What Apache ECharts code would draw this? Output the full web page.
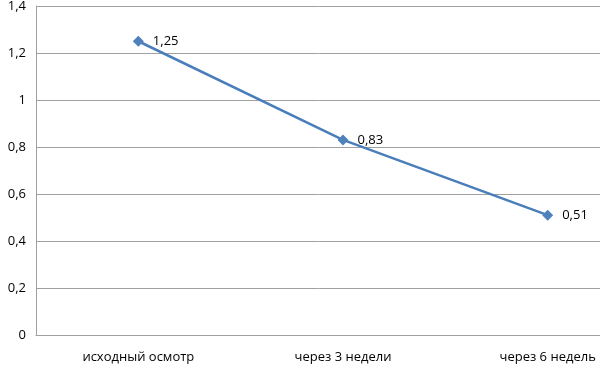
<!DOCTYPE html>
<html><head><meta charset="utf-8">
<script src="https://cdn.jsdelivr.net/npm/echarts@6/dist/echarts.min.js"></script>
<style>html,body{margin:0;padding:0;background:#fff}#c{width:600px;height:368px}</style>
</head><body><div id="c"></div>
<script>
var categories = ['исходный осмотр', 'через 3 недели', 'через 6 недель'];
var values = [1.25, 0.83, 0.51];
var yMin = 0, yMax = 1.4, yStep = 0.2;
var chart = echarts.init(document.getElementById('c'), null, {renderer: 'canvas'});
function fmt(v){ return String(Math.round(v*100)/100).replace('.', ','); }
chart.setOption({
  animation: false,
  textStyle: {fontFamily: 'Open Sans', color: '#000'},
  grid: {left: 36, top: 6, width: 614, height: 329, containLabel: false, outerBoundsMode: 'none'},
  xAxis: {
    type: 'category', data: categories, boundaryGap: true,
    axisLine: {lineStyle: {color: '#A0A0A0'}},
    axisTick: {show: false},
    axisLabel: {color: '#000', fontSize: 13, margin: 16, fontFamily: 'Open Sans', interval: 0, hideOverlap: false}
  },
  yAxis: {
    type: 'value', min: yMin, max: yMax, interval: yStep,
    axisLine: {show: true, lineStyle: {color: '#A0A0A0'}},
    axisTick: {show: false},
    splitLine: {lineStyle: {color: '#A0A0A0'}},
    axisLabel: {color: '#000', fontSize: 13, margin: 10, formatter: fmt, fontFamily: 'Open Sans'}
  },
  series: [{
    type: 'line', data: values,
    symbol: 'diamond', symbolSize: 11,
    lineStyle: {color: '#4A7EBB', width: 2.5},
    itemStyle: {color: '#4F81BD'},
    label: {show: true, position: 'right', distance: 9, color: '#000', fontSize: 13, fontFamily: 'Open Sans', formatter: function(p){return fmt(p.value);}}
  }]
});
</script></body></html>
